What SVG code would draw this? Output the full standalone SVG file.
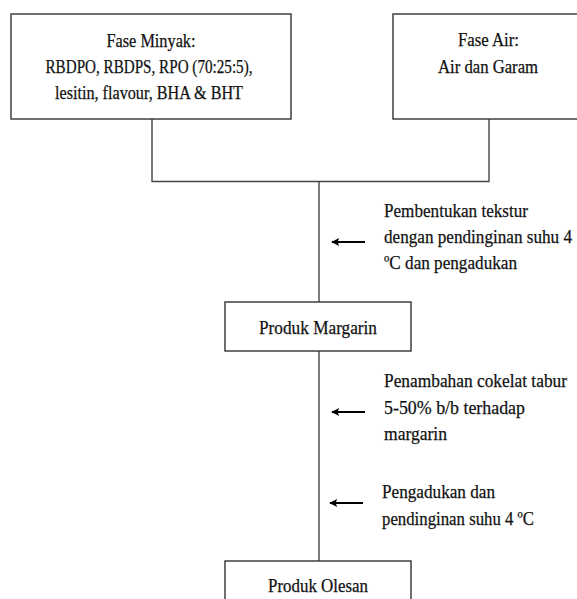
<svg xmlns="http://www.w3.org/2000/svg" width="577" height="599" viewBox="0 0 577 599">
<style>
.box{fill:#fff;stroke:#333;stroke-width:1.4}
.ln{fill:none;stroke:#444;stroke-width:1.4}
.ar{fill:none;stroke:#000;stroke-width:1.8}
text{font-family:"Liberation Serif","Times New Roman",serif;font-size:19.5px;fill:#111;stroke:#111;stroke-width:0.25}
.c{text-anchor:middle}
</style>
<defs>
<marker id="ah" viewBox="0 0 10 10" refX="9" refY="5" markerWidth="10" markerHeight="8" markerUnits="userSpaceOnUse" orient="auto">
<path d="M0,0 L10,5 L0,10 L2,5 z" fill="#000"/>
</marker>
</defs>
<rect width="577" height="599" fill="#fff"/>
<g id="connectors">
<polyline class="ln" points="152,119 152,181.5 489,181.5 489,119"/>
<line class="ln" x1="319" y1="181.5" x2="319" y2="302"/>
<line class="ln" x1="319" y1="351" x2="319" y2="561"/>
<line class="ar" x1="365" y1="242" x2="332" y2="242" marker-end="url(#ah)"/>
<line class="ar" x1="365" y1="412" x2="332" y2="412" marker-end="url(#ah)"/>
<line class="ar" x1="363" y1="503" x2="330" y2="503" marker-end="url(#ah)"/>
</g>
<g id="fase-minyak">
<rect class="box" x="11" y="14" width="280" height="105"/>
<text class="c" x="151" y="47" textLength="89" lengthAdjust="spacingAndGlyphs">Fase Minyak:</text>
<text class="c" x="149" y="72.5" textLength="207" lengthAdjust="spacingAndGlyphs">RBDPO, RBDPS, RPO (70:25:5),</text>
<text class="c" x="149" y="99" textLength="188" lengthAdjust="spacingAndGlyphs">lesitin, flavour, BHA &amp; BHT</text>
</g>
<g id="fase-air">
<rect class="box" x="393" y="14" width="200" height="105"/>
<text class="c" x="488.5" y="46" textLength="61" lengthAdjust="spacingAndGlyphs">Fase Air:</text>
<text class="c" x="488" y="73" textLength="100" lengthAdjust="spacingAndGlyphs">Air dan Garam</text>
</g>
<g id="label-1">
<text x="384" y="216.7" textLength="144" lengthAdjust="spacingAndGlyphs">Pembentukan tekstur</text>
<text x="384" y="243" textLength="188" lengthAdjust="spacingAndGlyphs">dengan pendinginan suhu 4</text>
<text x="384" y="269" textLength="133" lengthAdjust="spacingAndGlyphs">ºC dan pengadukan</text>
</g>
<g id="produk-margarin">
<rect class="box" x="225" y="302" width="186" height="49"/>
<text class="c" x="318" y="334" textLength="118" lengthAdjust="spacingAndGlyphs">Produk Margarin</text>
</g>
<g id="label-2">
<text x="384" y="387" textLength="183" lengthAdjust="spacingAndGlyphs">Penambahan cokelat tabur</text>
<text x="384" y="414" textLength="141" lengthAdjust="spacingAndGlyphs">5-50% b/b terhadap</text>
<text x="384" y="440" textLength="63" lengthAdjust="spacingAndGlyphs">margarin</text>
</g>
<g id="label-3">
<text x="382" y="498" textLength="113" lengthAdjust="spacingAndGlyphs">Pengadukan dan</text>
<text x="382" y="525" textLength="152" lengthAdjust="spacingAndGlyphs">pendinginan suhu 4 ºC</text>
</g>
<g id="produk-olesan">
<rect class="box" x="225" y="561" width="186" height="60"/>
<text class="c" x="318" y="592" textLength="100" lengthAdjust="spacingAndGlyphs">Produk Olesan</text>
</g>
</svg>
